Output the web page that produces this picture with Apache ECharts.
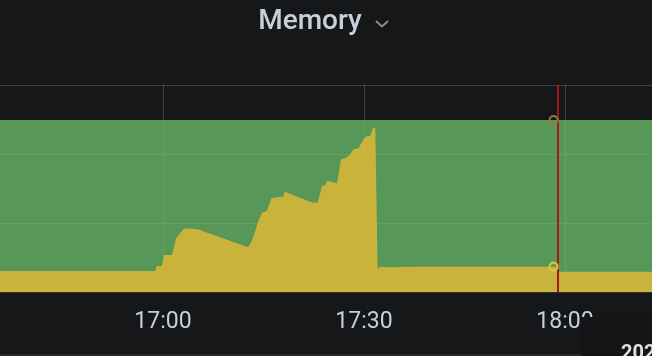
<!DOCTYPE html>
<html>
<head>
<meta charset="utf-8">
<script src="https://cdn.jsdelivr.net/npm/echarts@6/dist/echarts.min.js"></script>
<style>
html,body{margin:0;padding:0;background:#161719;overflow:hidden;width:652px;height:356px;}
#chart{position:absolute;left:-38px;top:0;width:804px;height:356px;}
</style>
</head>
<body>
<div id="chart"></div>
<script>
// ---- data ----
const tickLabels = ["16:30", "17:00", "17:30", "18:00", "18:30"];

const usedTimes = ["16:35:00","16:58:51","16:59:04","16:59:49","17:00:11","17:01:20","17:01:59","17:02:35","17:03:11","17:04:49","17:05:16","17:12:44","17:13:17","17:14:13","17:14:47","17:15:31","17:16:10","17:16:55","17:17:55","17:18:09","17:22:23","17:23:04","17:23:44","17:24:13","17:24:29","17:25:58","17:26:34","17:27:13","17:27:51","17:28:27","17:29:11","17:29:51","17:30:27","17:30:56","17:31:20","17:31:41","17:31:50","17:32:02","17:32:26","17:33:56","17:38:00","17:58:45","17:58:55","18:13:30"];
const usedValues = [1.22,1.22,1.51,1.51,2.15,2.15,3.13,3.42,3.68,3.65,3.62,2.59,2.97,4.08,4.60,4.71,5.43,5.49,5.52,5.81,5.18,5.18,6.14,6.19,6.45,6.30,7.69,7.75,7.94,8.27,8.33,8.81,9.04,9.04,9.49,9.55,9.57,1.32,1.47,1.43,1.47,1.47,1.18,1.18];

const totalTimes = ["16:35:00","17:30:00","18:13:30"];
const totalValues = [9.97, 9.97, 9.97];

const hoverTime = "17:58:18";
const hoverUsed = 1.47;
const hoverTotal = 9.97;
const cursorTime = "17:58:51";

const titleText = "Memory";
const tooltipText = "2023";

// ---- helpers ----
const OFF = 38; // chart canvas is shifted left by this many px (plot extends past the view)
function toMin(t) {
  const p = t.split(":").map(Number);
  return p[0] * 60 + p[1] + (p[2] || 0) / 60 - 1020;
}
function labelFor(v) {
  const idx = Math.round((v + 30) / 30);
  return tickLabels[idx] !== undefined ? tickLabels[idx] : "";
}
const usedData = usedTimes.map((t, i) => [toMin(t), usedValues[i]]);
const totalData = totalTimes.map((t, i) => [toMin(t), totalValues[i]]);

const chart = echarts.init(document.getElementById("chart"), null, {renderer: "canvas"});
chart.setOption({
  backgroundColor: "#161719",
  animation: false,
  grid: {left: 0, right: 0, top: 85, bottom: 64, containLabel: false, outerBoundsMode: "none"},
  xAxis: {
    type: "value",
    min: -30, max: 90, interval: 30,
    axisLine: {show: true, lineStyle: {color: "#303235", width: 2}},
    axisTick: {show: false},
    splitLine: {show: true, lineStyle: {color: "rgba(255,255,255,0.18)", width: 1}},
    axisLabel: {
      formatter: labelFor,
      color: "#c7d0d9",
      fontFamily: "Roboto",
      fontSize: 23,
      margin: 19
    }
  },
  yAxis: {
    type: "value",
    min: 0, max: 12, interval: 4,
    axisLine: {show: false},
    axisTick: {show: false},
    axisLabel: {show: false},
    splitLine: {show: true, lineStyle: {color: "rgba(255,255,255,0.18)", width: 1}}
  },
  series: [
    {
      name: "Total",
      type: "line",
      data: totalData,
      showSymbol: false,
      lineStyle: {width: 0},
      areaStyle: {color: "#6EC36D", opacity: 0.75},
      markPoint: {
        silent: true,
        data: [{coord: [toMin(hoverTime), hoverTotal], symbol: "circle", symbolSize: 8,
          itemStyle: {color: "rgba(0,0,0,0)", borderColor: "#8c7d3c", borderWidth: 2}, label: {show: false}}]
      }
    },
    {
      name: "Used",
      type: "line",
      data: usedData,
      showSymbol: false,
      lineStyle: {width: 0},
      areaStyle: {color: "#F0BC30", opacity: 0.75},
      markPoint: {
        silent: true,
        data: [{coord: [toMin(hoverTime), hoverUsed], symbol: "circle", symbolSize: 8,
          itemStyle: {color: "rgba(0,0,0,0)", borderColor: "#dcc63c", borderWidth: 2}, label: {show: false}}]
      },
      markLine: {
        silent: true,
        symbol: "none",
        label: {show: false},
        lineStyle: {color: "#a3191a", width: 2, type: "solid"},
        data: [{xAxis: toMin(cursorTime)}]
      }
    }
  ],
  graphic: [
    {type: "text", z: 100, x: 310 + OFF, y: 7.5, style: {text: titleText, fill: "#c7d0d9", font: "500 28px Roboto", align: "center", verticalAlign: "top"}},
    {type: "polyline", z: 100, shape: {points: [[376 + OFF, 21], [382 + OFF, 26.5], [388 + OFF, 21]]}, style: {stroke: "#8a8d92", lineWidth: 2, fill: null}},
    {type: "rect", z: 100, shape: {x: OFF, y: 354, width: 581, height: 2}, style: {fill: "#25272a"}},
    {type: "rect", z: 100, shape: {x: 581 + OFF, y: 317, width: 120, height: 50}, style: {fill: "#141517"}},
    {type: "text", z: 101, x: 621 + OFF, y: 344, style: {text: tooltipText, fill: "#e0e0e0", font: "bold 20px Roboto", align: "left", verticalAlign: "top"}}
  ]
});
</script>
</body>
</html>
